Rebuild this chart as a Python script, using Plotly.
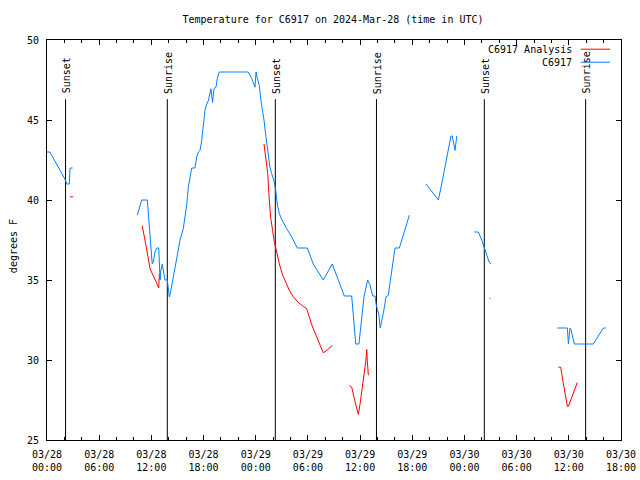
import plotly.graph_objects as go

# ---------------- data ----------------
# Observed (C6917) segments
obs_t1 = ["2024-03-28 00:00", "2024-03-28 00:20", "2024-03-28 02:04", "2024-03-28 02:16",
          "2024-03-28 02:34", "2024-03-28 02:39", "2024-03-28 02:57"]
obs_v1 = [43.0, 43.0, 41.3, 41.0, 41.0, 42.0, 42.0]

obs_t2 = ["2024-03-28 10:23", "2024-03-28 10:53", "2024-03-28 11:32", "2024-03-28 11:51",
          "2024-03-28 12:02", "2024-03-28 12:06", "2024-03-28 12:13", "2024-03-28 12:25",
          "2024-03-28 12:37", "2024-03-28 12:51", "2024-03-28 13:00", "2024-03-28 13:04",
          "2024-03-28 13:15", "2024-03-28 13:22", "2024-03-28 13:34", "2024-03-28 13:50",
          "2024-03-28 13:57", "2024-03-28 14:04", "2024-03-28 14:13", "2024-03-28 14:31",
          "2024-03-28 14:55", "2024-03-28 15:18", "2024-03-28 15:40", "2024-03-28 16:04",
          "2024-03-28 16:15", "2024-03-28 16:38", "2024-03-28 17:01", "2024-03-28 17:13",
          "2024-03-28 17:24", "2024-03-28 17:36", "2024-03-28 17:47", "2024-03-28 17:58",
          "2024-03-28 18:10", "2024-03-28 18:22", "2024-03-28 18:33", "2024-03-28 18:51",
          "2024-03-28 19:02", "2024-03-28 19:12", "2024-03-28 19:26", "2024-03-28 19:35",
          "2024-03-28 19:49", "2024-03-28 23:09", "2024-03-28 23:32", "2024-03-28 23:55",
          "2024-03-29 00:02", "2024-03-29 00:11", "2024-03-29 00:25", "2024-03-29 00:36",
          "2024-03-29 00:48", "2024-03-29 00:57", "2024-03-29 01:11", "2024-03-29 01:27",
          "2024-03-29 01:38", "2024-03-29 01:50", "2024-03-29 02:06", "2024-03-29 02:18",
          "2024-03-29 02:29", "2024-03-29 02:43", "2024-03-29 02:59", "2024-03-29 03:34",
          "2024-03-29 04:08", "2024-03-29 04:47", "2024-03-29 05:56", "2024-03-29 06:37",
          "2024-03-29 07:19", "2024-03-29 07:46", "2024-03-29 08:48", "2024-03-29 10:11",
          "2024-03-29 11:02", "2024-03-29 11:13", "2024-03-29 11:30", "2024-03-29 11:52",
          "2024-03-29 12:11", "2024-03-29 12:27", "2024-03-29 12:52", "2024-03-29 13:08",
          "2024-03-29 13:27", "2024-03-29 13:43", "2024-03-29 13:50", "2024-03-29 13:59",
          "2024-03-29 14:10", "2024-03-29 14:19", "2024-03-29 14:29", "2024-03-29 14:40",
          "2024-03-29 14:59", "2024-03-29 15:15", "2024-03-29 15:26", "2024-03-29 15:45",
          "2024-03-29 16:01", "2024-03-29 16:31", "2024-03-29 16:47", "2024-03-29 17:10",
          "2024-03-29 17:40"]
obs_v2 = [39.05, 40.0, 40.0, 37.5,
          36.4, 36.0, 36.1, 36.75,
          37.0, 37.0, 35.0, 35.5,
          36.0, 35.5, 35.0, 35.0,
          34.6, 33.95, 34.26, 35.2,
          36.4, 37.5, 38.2, 39.7,
          40.8, 42.0, 42.0, 42.7,
          43.0, 43.1, 43.7, 44.6,
          45.6, 46.0, 46.2, 46.95,
          46.1, 46.95, 47.05, 47.6,
          48.0, 48.0, 47.6, 47.05,
          48.0, 47.6, 47.15, 46.2,
          45.6, 45.0, 43.9, 42.9,
          42.06, 41.65, 41.2, 40.6,
          39.7, 39.15, 38.8, 38.2,
          37.7, 37.0, 37.0, 36.0,
          35.4, 35.0, 36.0, 34.0,
          34.0, 32.6, 31.0, 31.0,
          32.6, 33.95, 35.0, 34.7,
          34.0, 34.0, 33.5, 33.1,
          32.8, 32.0, 32.4, 32.9,
          33.95, 34.05, 34.8, 36.2,
          37.0, 37.0, 37.5, 38.1,
          39.05]

obs_t3 = ["2024-03-29 19:35", "2024-03-29 21:00", "2024-03-29 21:23", "2024-03-29 21:58",
          "2024-03-29 22:16", "2024-03-29 22:27", "2024-03-29 22:36", "2024-03-29 22:48",
          "2024-03-29 22:55", "2024-03-29 23:07"]
obs_v3 = [41.0, 40.0, 41.0, 42.7, 43.4, 44.0, 44.0, 43.3, 43.1, 44.0]

obs_t4 = ["2024-03-30 01:08", "2024-03-30 01:36", "2024-03-30 01:59", "2024-03-30 02:17",
          "2024-03-30 02:34", "2024-03-30 02:51", "2024-03-30 03:03"]
obs_v4 = [38.0, 38.0, 37.5, 37.0, 36.55, 36.1, 36.0]

obs_t5 = ["2024-03-30 10:41", "2024-03-30 11:50", "2024-03-30 11:57", "2024-03-30 12:01",
          "2024-03-30 12:08", "2024-03-30 12:15", "2024-03-30 12:27", "2024-03-30 12:38",
          "2024-03-30 14:49", "2024-03-30 15:58", "2024-03-30 16:15"]
obs_v5 = [32.0, 32.0, 31.0, 31.45, 32.0, 31.9, 31.45, 31.0, 31.0, 32.0, 32.0]

# Analysis (C6917 Analysis) segments
ana_t1 = ["2024-03-28 02:39", "2024-03-28 02:59"]
ana_v1 = [40.2, 40.2]

ana_t2 = ["2024-03-28 10:57", "2024-03-28 11:11", "2024-03-28 11:28", "2024-03-28 11:51",
          "2024-03-28 12:13", "2024-03-28 12:37", "2024-03-28 12:51", "2024-03-28 12:55"]
ana_v2 = [38.4, 37.6, 36.9, 35.7, 35.3, 34.8, 34.5, 35.4]

ana_t3 = ["2024-03-29 00:57", "2024-03-29 01:09", "2024-03-29 01:23", "2024-03-29 01:32",
          "2024-03-29 01:43", "2024-03-29 01:57", "2024-03-29 02:08", "2024-03-29 02:25",
          "2024-03-29 02:43", "2024-03-29 03:06", "2024-03-29 03:29", "2024-03-29 03:52",
          "2024-03-29 04:19", "2024-03-29 04:54", "2024-03-29 05:28", "2024-03-29 05:52",
          "2024-03-29 06:26", "2024-03-29 07:01", "2024-03-29 07:28", "2024-03-29 07:46",
          "2024-03-29 08:10", "2024-03-29 08:48"]
ana_v3 = [43.5, 42.5, 41.65, 40.2, 38.9, 38.05, 37.4, 36.75, 36.0, 35.3, 34.8, 34.35,
          33.95, 33.6, 33.35, 33.2, 32.2, 31.45, 30.8, 30.45, 30.6, 30.9]

ana_t4 = ["2024-03-29 10:46", "2024-03-29 11:02", "2024-03-29 11:25", "2024-03-29 11:48",
          "2024-03-29 11:59", "2024-03-29 12:11", "2024-03-29 12:22", "2024-03-29 12:39",
          "2024-03-29 12:46", "2024-03-29 12:50", "2024-03-29 12:57"]
ana_v4 = [28.4, 28.3, 27.4, 26.6, 27.2, 27.9, 28.75, 29.9, 30.65, 29.9, 29.05]

ana_t5 = ["2024-03-30 02:53", "2024-03-30 02:59"]
ana_v5 = [33.85, 33.85]

ana_t6 = ["2024-03-30 10:48", "2024-03-30 11:04", "2024-03-30 11:22", "2024-03-30 11:50",
          "2024-03-30 11:57", "2024-03-30 12:20", "2024-03-30 12:43", "2024-03-30 12:59"]
ana_v6 = [29.55, 29.55, 28.55, 27.1, 27.1, 27.7, 28.3, 28.6]

# Sun events
sun_times = ["2024-03-28 02:08", "2024-03-28 13:50", "2024-03-29 02:15",
             "2024-03-29 13:53", "2024-03-30 02:17", "2024-03-30 13:56"]
sun_labels = ["Sunset", "Sunrise", "Sunset", "Sunrise", "Sunset", "Sunrise"]

# Axis ticks
x_tickvals = ["2024-03-28 00:00", "2024-03-28 06:00", "2024-03-28 12:00", "2024-03-28 18:00",
              "2024-03-29 00:00", "2024-03-29 06:00", "2024-03-29 12:00", "2024-03-29 18:00",
              "2024-03-30 00:00", "2024-03-30 06:00", "2024-03-30 12:00", "2024-03-30 18:00"]
x_ticktext = ["03/28<br>00:00", "03/28<br>06:00", "03/28<br>12:00", "03/28<br>18:00",
              "03/29<br>00:00", "03/29<br>06:00", "03/29<br>12:00", "03/29<br>18:00",
              "03/30<br>00:00", "03/30<br>06:00", "03/30<br>12:00", "03/30<br>18:00"]
y_tickvals = [25, 30, 35, 40, 45, 50]

title_text = "Temperature for C6917 on 2024-Mar-28 (time in UTC)"
y_title = "degrees F"
legend_names = ["C6917 Analysis", "C6917"]

# ---------------- styling ----------------
FONT = "DejaVu Sans Mono"
RED = "#ff0000"
BLUE = "#0080ff"
SUN_TOP = 46.3
LABEL_BOTTOM = 46.7
W, H = 640, 480


def join(segs):
    xs, ys = [], []
    for t, v in segs:
        if xs:
            xs.append(None)
            ys.append(None)
        xs.extend(t)
        ys.extend(v)
    return xs, ys


obs_x, obs_y = join([(obs_t1, obs_v1), (obs_t2, obs_v2), (obs_t3, obs_v3),
                     (obs_t4, obs_v4), (obs_t5, obs_v5)])
ana_x, ana_y = join([(ana_t1, ana_v1), (ana_t2, ana_v2), (ana_t3, ana_v3),
                     (ana_t4, ana_v4), (ana_t5, ana_v5), (ana_t6, ana_v6)])

fig = go.Figure()

# sun event vertical lines
sx, sy = [], []
for t in sun_times:
    sx += [t, t, None]
    sy += [25, SUN_TOP, None]
fig.add_trace(go.Scatter(x=sx, y=sy, mode="lines", line=dict(color="black", width=1),
                         showlegend=False, hoverinfo="skip"))

fig.add_trace(go.Scatter(x=ana_x, y=ana_y, mode="lines", name=legend_names[0],
                         line=dict(color=RED, width=1), connectgaps=False, showlegend=False))
fig.add_trace(go.Scatter(x=obs_x, y=obs_y, mode="lines", name=legend_names[1],
                         line=dict(color=BLUE, width=1), connectgaps=False, showlegend=False))

for t, lab in zip(sun_times, sun_labels):
    fig.add_annotation(x=t, y=LABEL_BOTTOM, xref="x", yref="y", text=lab, textangle=-90,
                       showarrow=False, xanchor="center", yanchor="bottom", xshift=1,
                       yshift=-3, font=dict(family=FONT, size=10, color="black"))

# manual legend (text then line sample)
for i, (name, col) in enumerate(zip(legend_names, [RED, BLUE])):
    yp = 0.977 - i * 0.0325
    fig.add_annotation(x=0.918, y=yp, xref="paper", yref="paper", text=name,
                       showarrow=False, xanchor="right", yanchor="middle",
                       font=dict(family=FONT, size=10, color="black"))
    fig.add_shape(type="line", xref="paper", yref="paper", x0=0.930, x1=0.981,
                  y0=yp, y1=yp, line=dict(color=col, width=1))

fig.add_annotation(x=-0.059, y=0.485, xref="paper", yref="paper", text=y_title,
                   textangle=-90, showarrow=False, xanchor="center", yanchor="middle",
                   font=dict(family=FONT, size=10, color="black"))

fig.update_layout(
    width=W, height=H,
    margin=dict(l=47, r=19, t=40, b=40, autoexpand=False),
    paper_bgcolor="white", plot_bgcolor="white",
    font=dict(family=FONT, size=10, color="black"),
    title=dict(text=title_text, x=333 / W, xanchor="center", y=1 - 19 / H,
               yanchor="middle", yref="container", font=dict(family=FONT, size=10)),
    showlegend=False,
)
fig.update_xaxes(
    type="date", range=["2024-03-28 00:00", "2024-03-30 18:00"],
    tickvals=x_tickvals, ticktext=x_ticktext, tickangle=0, automargin=False,
    ticks="inside", ticklen=5, tickcolor="black", showgrid=False, zeroline=False,
    showline=True, linecolor="black", linewidth=1, mirror="ticks",
    ticklabelstandoff=5, ticklabeloverflow="allow",
    minor=dict(dtick=2 * 3600 * 1000, ticks="inside", ticklen=3, tickcolor="black",
               showgrid=False),
)
fig.update_yaxes(
    range=[25, 50], tickvals=y_tickvals, ticks="inside", ticklen=5, tickcolor="black",
    showgrid=False, zeroline=False, showline=True, linecolor="black", linewidth=1,
    mirror="ticks", ticklabelstandoff=5, automargin=False,
)

# remove the page's default 8px body margin so the 640x480 figure fills the window
fig.write_html("out.html", config={"displayModeBar": False},
               post_script="document.body.style.margin='0';")
